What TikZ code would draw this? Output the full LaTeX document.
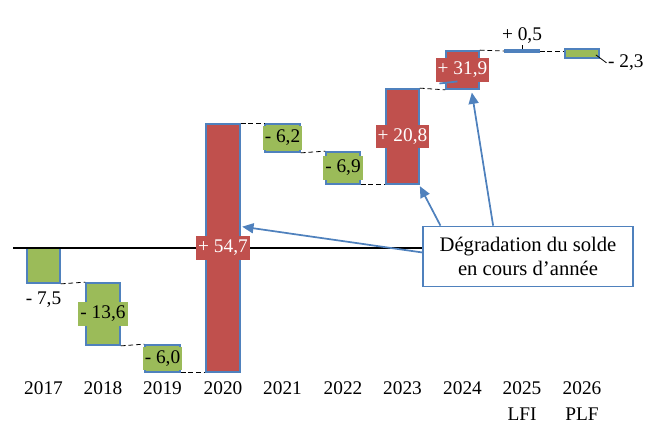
\documentclass[tikz,border=0pt]{standalone}
\usepackage{fontspec}
\setmainfont{Liberation Serif}
\usepackage{xcolor}
\usepackage{tikz}
\usetikzlibrary{arrows.meta, positioning, fit}
\definecolor{barblue}{HTML}{4F81BD}
\definecolor{bargreen}{HTML}{9BBB59}
\definecolor{barred}{HTML}{C0504D}
\newcommand{\chartfont}{\fontsize{14.5}{19}\selectfont}
\tikzset{
    greenbar/.style={
        rectangle,
        draw=barblue,
        line width=1.3pt,
        fill=bargreen,
        inner sep=0pt
    },
    redbar/.style={
        greenbar,
        fill=barred
    },
    bluebar/.style={
        greenbar,
        fill=barblue
    },
    greenlabel/.style={
        fill=bargreen,
        inner xsep=1.5pt,
        inner ysep=3pt,
        font=\chartfont
    },
    redlabel/.style={
        greenlabel,
        fill=barred,
        text=white
    },
    plainlabel/.style={
        inner sep=1pt,
        font=\chartfont
    },
    yearlabel/.style={
        anchor=north,
        inner sep=1pt,
        align=center,
        font=\chartfont
    },
    callout/.style={
        rectangle,
        draw=barblue,
        line width=1.3pt,
        fill=white,
        align=center,
        minimum width=157pt,
        minimum height=45pt,
        font=\fontsize{15.5}{17.5}\selectfont
    },
    dashline/.style={
        draw=black,
        line width=0.6pt,
        dash pattern=on 3.5pt off 2.2pt
    },
    zeroline/.style={
        draw=black,
        line width=1.3pt
    },
    pointer/.style={
        draw=barblue,
        line width=1.3pt,
        -{Triangle[length=8.5pt,width=7.5pt]}
    }
}

\begin{document}
\begin{tikzpicture}[x=0.75pt, y=-0.75pt]
\useasboundingbox (0,0) rectangle (652,435);

% Bars
\node[greenbar, fit={(27,248) (60,283)}] (b2017) {};
\node[greenbar, fit={(86,283) (120,345)}] (b2018) {};
\node[greenbar, fit={(145,345) (180,372)}] (b2019) {};
\node[redbar, fit={(206,124) (240,372)}] (b2020) {};
\node[greenbar, fit={(265,124) (300,152)}] (b2021) {};
\node[greenbar, fit={(326,152) (360,184)}] (b2022) {};
\node[redbar, fit={(386,89) (419,184)}] (b2023) {};
\node[redbar, fit={(446,51) (479,89)}] (b2024) {};
\node[bluebar, fit={(505,49.5) (539,52.5)}] (b2025) {};
\node[greenbar, fit={(565,49) (599,58)}] (b2026) {};

% Steps between bars
\draw[dashline] (b2017.south east) -- (b2018.north west);
\draw[dashline] (b2018.south east) -- (b2019.north west);
\draw[dashline] (b2019.south east) -- (b2020.south west);
\draw[dashline] (b2020.north east) -- (b2021.north west);
\draw[dashline] (b2021.south east) -- (b2022.north west);
\draw[dashline] (b2022.south east) -- (b2023.south west);
\draw[dashline] (b2023.north east) -- (b2024.south west);
\draw[dashline] (b2024.north east) -- (b2025.west);
\draw[dashline] (b2025.east) -- (b2026.west |- b2025.east);

% Callout
\node[callout] (note) at (528,256.5) {Dégradation du solde\\en cours d’année};

% Zero line
\coordinate (axisstart) at (13,248);
\draw[zeroline] (axisstart) -- (note.west |- axisstart);

% Values
\node[plainlabel, below=5pt of b2017] (l2017) {- 7,5};
\node[greenlabel] (l2018) at (b2018.center) {- 13,6};
\node[greenlabel] (l2019) at (b2019.center) {- 6,0};
\node[redlabel] (l2020) at (b2020.center) {+ 54,7};
\node[greenlabel] (l2021) at (b2021.center) {- 6,2};
\node[greenlabel] (l2022) at (b2022.center) {- 6,9};
\node[redlabel] (l2023) at (b2023.center) {+ 20,8};
\node[redlabel] (l2024) at (b2024.center) {+ 31,9};
\coordinate[above=2.5pt of b2025.north] (tick2025);
\draw[line width=0.6pt] (b2025.north) -- (tick2025);
\node[plainlabel, above=0pt of tick2025] (l2025) {+ 0,5};
\node[plainlabel, right=5pt of b2026.south east, yshift=-3pt] (l2026) {- 2,3};
\draw[line width=0.6pt] ([xshift=-3pt, yshift=3pt]b2026.south east) -- (l2026.west);
\draw[barblue, line width=1.3pt] ([xshift=3pt, yshift=-1pt]l2024.south west) -- ++(18,-2);

% Pointers from the callout
\draw[pointer] ([yshift=3pt]note.west) -- ([xshift=1pt, yshift=16pt]b2020.east);
\draw[pointer] ([xshift=13.5pt]note.north west) -- ([yshift=-1pt]b2023.south east);
\draw[pointer] ([xshift=53pt]note.north west) -- ([xshift=7pt, yshift=-2pt]b2024.south);

% Years
\node[yearlabel] (y2017) at (43.5,380.5) {2017};
\node[yearlabel] (y2018) at (103,380.5) {2018};
\node[yearlabel] (y2019) at (162.5,380.5) {2019};
\node[yearlabel] (y2020) at (223,380.5) {2020};
\node[yearlabel] (y2021) at (282.5,380.5) {2021};
\node[yearlabel] (y2022) at (343,380.5) {2022};
\node[yearlabel] (y2023) at (402.5,380.5) {2023};
\node[yearlabel] (y2024) at (462.5,380.5) {2024};
\node[yearlabel] (y2025) at (522,380.5) {2025\\LFI};
\node[yearlabel] (y2026) at (582,380.5) {2026\\PLF};

\end{tikzpicture}
\end{document}
